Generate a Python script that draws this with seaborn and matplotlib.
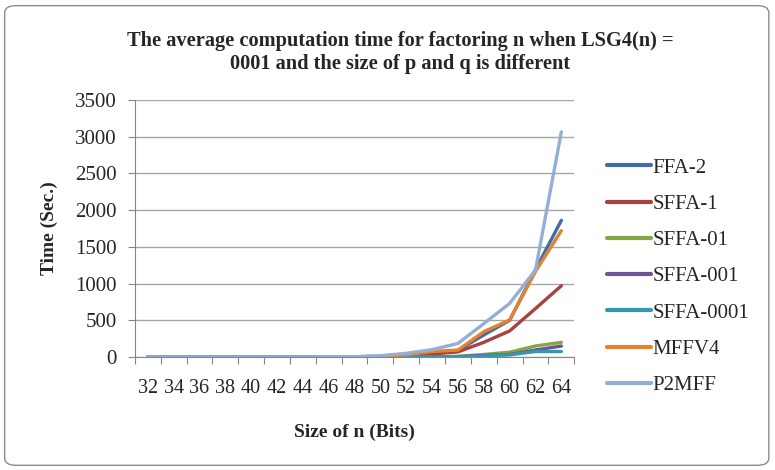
import matplotlib
matplotlib.use("Agg")
import matplotlib.pyplot as plt
from matplotlib.patches import FancyBboxPatch
from matplotlib.ticker import MultipleLocator
import seaborn as sns
import pandas as pd

sizes = [32, 34, 36, 38, 40, 42, 44, 46, 48, 50, 52, 54, 56, 58, 60, 62, 64]
series_names = ["FFA-2", "SFFA-1", "SFFA-01", "SFFA-001", "SFFA-0001", "MFFV4", "P2MFF"]
ffa2 =     [0, 0, 0, 0, 0, 0, 0, 1, 3, 8, 25, 55, 90, 300, 500, 1190, 1860]
sffa1 =    [0, 0, 0, 0, 0, 0, 0, 1, 2, 5, 15, 40, 70, 200, 355, 660, 970]
sffa01 =   [0, 0, 0, 0, 0, 0, 0, 0, 0, 1, 2, 4, 8, 35, 65, 150, 200]
sffa001 =  [0, 0, 0, 0, 0, 0, 0, 0, 0, 1, 2, 3, 6, 20, 35, 95, 150]
sffa0001 = [0, 0, 0, 0, 0, 0, 0, 0, 0, 1, 1, 2, 4, 12, 30, 75, 75]
mffv4 =    [0, 0, 0, 0, 0, 0, 0, 1, 3, 10, 30, 75, 95, 345, 505, 1165, 1720]
p2mff =    [0, 0, 0, 0, 0, 0, 1, 2, 5, 18, 50, 100, 185, 455, 730, 1185, 3065]
all_values = [ffa2, sffa1, sffa01, sffa001, sffa0001, mffv4, p2mff]
colors = ["#3D6EA8", "#A8423F", "#86A544", "#6C5495", "#3796B1", "#E4822F", "#93AFD6"]

rows = []
for name, vals in zip(series_names, all_values):
    for s, v in zip(sizes, vals):
        rows.append({"Size": s, "Time": v, "Series": name})
df = pd.DataFrame(rows)

sns.set_theme(style="white")
plt.rcParams["font.family"] = ["Liberation Serif", "DejaVu Serif"]

fig = plt.figure(figsize=(7.75, 4.7), dpi=100)
ax = fig.add_axes([0.174, 0.2404, 0.567, 0.547])

sns.lineplot(data=df, x="Size", y="Time", hue="Series", hue_order=series_names,
             palette=colors, linewidth=2.4, ax=ax, legend=True)

ax.set_xlim(31, 65)
ax.set_ylim(0, 3500)
ax.set_xticks(sizes)
ax.set_xticklabels([str(s) for s in sizes], fontsize=14.5)
ax.set_xticks([31 + 2 * i for i in range(18)], minor=True)
ax.yaxis.set_major_locator(MultipleLocator(500))
ax.tick_params(axis="y", labelsize=15, length=5, width=0.8, color="#868686", direction="out", left=True, pad=8)
ax.tick_params(axis="x", which="major", length=0, pad=16)
ax.tick_params(axis="x", which="minor", length=5, width=0.8, color="#868686", direction="out", bottom=True)
ax.grid(axis="y", color="#A6A6A6", linewidth=1.0)
ax.grid(axis="x", visible=False)
for side in ["top", "right"]:
    ax.spines[side].set_visible(False)
for side in ["left", "bottom"]:
    ax.spines[side].set_color("#868686")
    ax.spines[side].set_linewidth(0.8)

ax.set_xlabel("Size of n (Bits)", fontsize=14, fontweight="bold", labelpad=18)
ax.set_ylabel("Time (Sec.)", fontsize=14, fontweight="bold", labelpad=12)

fig.text(0.516, 0.888, "The average computation time for factoring n when LSG4(n) =\n0001 and the size of p and q is different",
         ha="center", va="center", fontsize=14.7, fontweight="bold", linespacing=1.2)

leg = ax.legend(loc="upper left", bbox_to_anchor=(1.055, 0.806), frameon=False,
                fontsize=15, handlelength=2.1, handletextpad=0.08, labelspacing=0.8,
                borderaxespad=0)
for line in leg.get_lines():
    line.set_linewidth(3)

border = FancyBboxPatch((0.006, 0.01), 0.986, 0.978, boxstyle="round,pad=0,rounding_size=0.015",
                        transform=fig.transFigure, facecolor="none", edgecolor="#8C8C8C", linewidth=1.0)
fig.patches.append(border)

fig.savefig("out.png", dpi=100)
